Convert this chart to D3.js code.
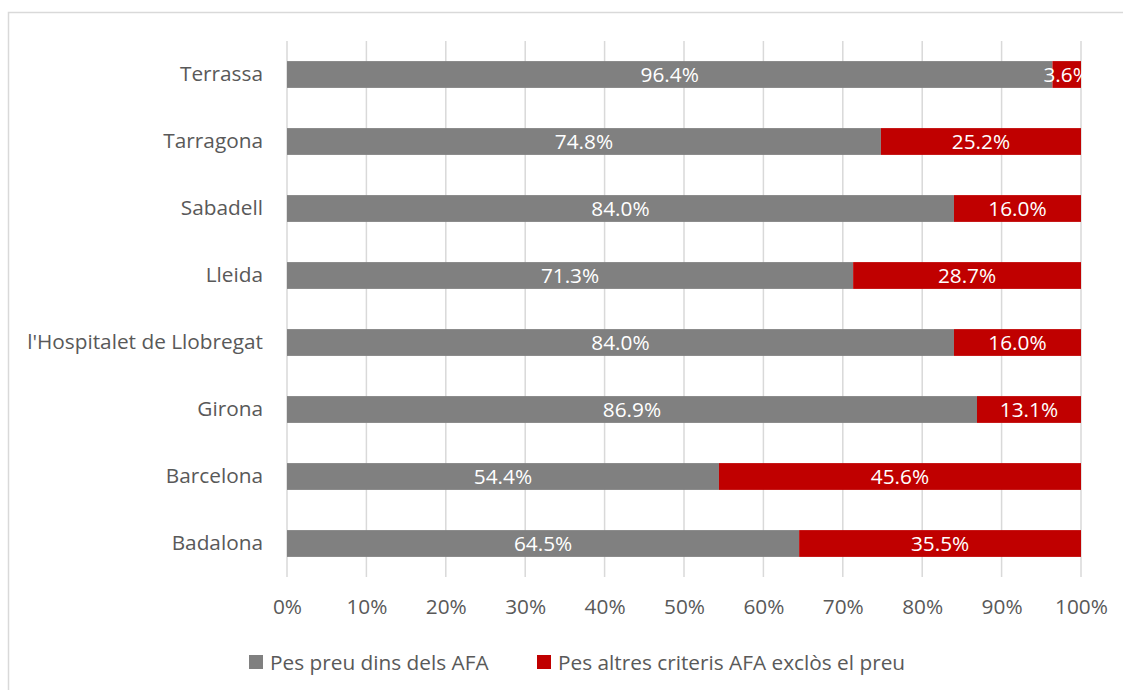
<!DOCTYPE html>
<html>
<head>
<meta charset="utf-8">
<script src="https://cdn.jsdelivr.net/npm/d3@7"></script>
<style>
  html, body { margin: 0; padding: 0; background: #fff; overflow: hidden; }
  svg { display: block; }
  text { font-family: "Open Sans", Lato, sans-serif; }
</style>
</head>
<body>
<svg id="chart" width="1123" height="690"></svg>
<script>
// Share of each award criterion (%), by city
const cities = ["Terrassa", "Tarragona", "Sabadell", "Lleida", "l'Hospitalet de Llobregat", "Girona", "Barcelona", "Badalona"];
const pricePct = [96.4, 74.8, 84.0, 71.3, 84.0, 86.9, 54.4, 64.5];
const otherPct = [3.6, 25.2, 16.0, 28.7, 16.0, 13.1, 45.6, 35.5];
const seriesNames = ["Pes preu dins dels AFA", "Pes altres criteris AFA exclòs el preu"];
const tickValues = [0, 10, 20, 30, 40, 50, 60, 70, 80, 90, 100];

const colors = ["#808080", "#C00000"];
const fontSize = 20.8;
const textColor = "#595959";

const svg = d3.select("#chart");
const W = 1123, H = 690;
const margin = { left: 287, right: 42, top: 41, bottom: 113 };

// outer frame (top and left edges fall inside the canvas)
svg.append("path")
  .attr("d", `M8.5,${H}V12.5H${W}`)
  .attr("fill", "none").attr("stroke", "#d9d9d9").attr("stroke-width", 1.5);

const x = d3.scaleLinear().domain([0, 100]).range([margin.left, W - margin.right]);
const y = d3.scaleBand().domain(cities).range([margin.top, H - margin.bottom]).paddingInner(0.6).paddingOuter(0.3);

// vertical gridlines
svg.append("g")
  .selectAll("line")
  .data(tickValues)
  .join("line")
  .attr("x1", d => x(d)).attr("x2", d => x(d))
  .attr("y1", margin.top).attr("y2", H - margin.bottom)
  .attr("stroke", "#d9d9d9").attr("stroke-width", 1.5);

// stacked data
const rows = cities.map((c, i) => ({ city: c, price: pricePct[i], other: otherPct[i] }));
const stack = d3.stack().keys(["price", "other"])(rows);

const layers = svg.append("g")
  .selectAll("g")
  .data(stack)
  .join("g")
  .attr("fill", (d, i) => colors[i]);

layers.selectAll("rect")
  .data(d => d)
  .join("rect")
  .attr("x", d => x(d[0]))
  .attr("width", d => x(d[1]) - x(d[0]))
  .attr("y", d => y(d.data.city))
  .attr("height", y.bandwidth());

// value labels centred in each segment
layers.selectAll("text")
  .data(d => d.map(s => ({ s, v: s[1] - s[0] })))
  .join("text")
  .attr("x", d => (x(d.s[0]) + x(d.s[1])) / 2)
  .attr("y", d => y(d.s.data.city) + y.bandwidth() / 2)
  .attr("dy", "0.36em")
  .attr("text-anchor", "middle")
  .attr("fill", "#fff")
  .attr("font-size", fontSize)
  .text(d => d.v.toFixed(1) + "%");

// category axis
const yAxis = svg.append("g")
  .attr("transform", `translate(${margin.left},0)`)
  .call(d3.axisLeft(y).tickSize(0).tickPadding(24));
yAxis.select(".domain").remove();
yAxis.selectAll("text")
  .attr("font-size", fontSize)
  .attr("fill", textColor)
  .attr("font-family", "'Open Sans', Lato, sans-serif");

// value axis
const xAxis = svg.append("g")
  .attr("transform", `translate(0,${H - margin.bottom})`)
  .call(d3.axisBottom(x).tickValues(tickValues).tickSize(0).tickPadding(22).tickFormat(d => d + "%"));
xAxis.select(".domain").remove();
xAxis.selectAll("text")
  .attr("font-size", fontSize)
  .attr("fill", textColor)
  .attr("font-family", "'Open Sans', Lato, sans-serif");

// legend
const legendX = [249, 537];
const legend = svg.append("g")
  .selectAll("g")
  .data(seriesNames)
  .join("g")
  .attr("transform", (d, i) => `translate(${legendX[i]},662)`);
legend.append("rect")
  .attr("x", 0).attr("y", -7).attr("width", 14).attr("height", 14)
  .attr("fill", (d, i) => colors[i]);
legend.append("text")
  .attr("x", 21).attr("dy", "0.36em")
  .attr("font-size", fontSize)
  .attr("fill", textColor)
  .text(d => d);
</script>
</body>
</html>
